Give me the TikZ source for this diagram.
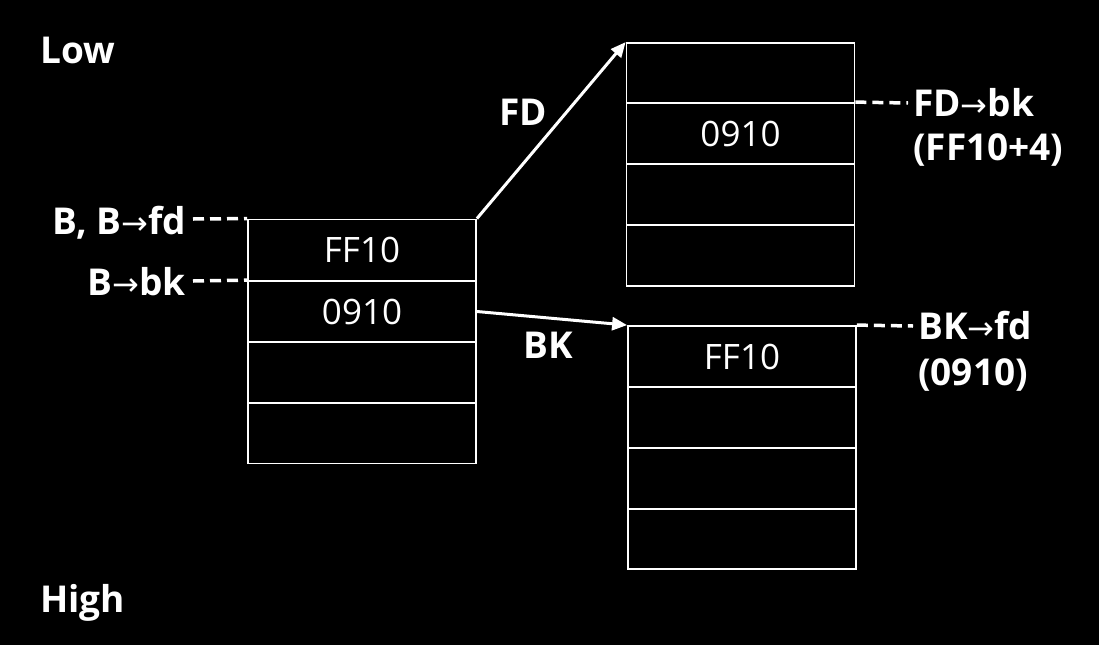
\documentclass[tikz,border=0pt]{standalone}
\usepackage{fontspec}
\setmainfont{Open Sans}
\newfontfamily\arrfont{DejaVu Sans}
\newcommand{\ra}{{\arrfont\mdseries\fontsize{32}{40}\selectfont →}}
\usetikzlibrary{arrows.meta}
\begin{document}
\begin{tikzpicture}[x=1pt,y=-1pt,
  cell/.style={draw=white,line width=1.8pt,minimum width=228pt,minimum height=61pt,inner sep=0pt,text=white,font=\fontsize{35}{40}\selectfont},
  lbl/.style={text=white,font=\bfseries\fontsize{37}{44}\selectfont,inner sep=0pt},
  ptr/.style={draw=white,line width=3pt,-{Triangle[length=15pt,width=13pt]}},
  dsh/.style={draw=white,line width=3.5pt,dash pattern=on 11pt off 6pt}]
\fill[black] (0,0) rectangle (1099,645);
\useasboundingbox (0,0) rectangle (1099,645);
% box A
\node[cell] (a1) at (362,250) {FF10};
\node[cell] (a2) at (362,311.5) {0910};
\node[cell] (a3) at (362,372.5) {};
\node[cell] (a4) at (362,433) {};
% box B
\node[cell,minimum height=60pt] (b1) at (740.5,73) {};
\node[cell] (b2) at (740.5,133.5) {0910};
\node[cell] (b3) at (740.5,194.5) {};
\node[cell] (b4) at (740.5,255.5) {};
% box C
\node[cell] (c1) at (742,356.5) {FF10};
\node[cell] (c2) at (742,417.5) {};
\node[cell] (c3) at (742,478.5) {};
\node[cell,minimum height=60pt] (c4) at (742,539) {};
% labels
\node[lbl,anchor=base west] (low) at (40,63) {Low};
\node[lbl,anchor=base west] (high) at (40,612) {High};
\node[lbl,anchor=base east] (bfd) at (186,234) {B, B\ra fd};
\node[lbl,anchor=base east] (bbk) at (186,295) {B\ra bk};
\node[lbl,anchor=base] (fd) at (523,125) {FD};
\node[lbl,anchor=base] (bk) at (548,358) {BK};
\node[lbl,anchor=base west] (fdbk) at (913,116) {FD\ra bk};
\node[lbl,anchor=base west] (fdbk2) at (913,160) {(FF10+4)};
\node[lbl,anchor=base west] (bkfd) at (918,339) {BK\ra fd};
\node[lbl,anchor=base west] (bkfd2) at (918,385) {(0910)};
% dashed leaders
\coordinate (d1) at (193,219);
\coordinate (d2) at (193,281);
\coordinate (d3) at (908,103);
\coordinate (d4) at (913,326);
\draw[dsh] (d1) -- (a1.north west);
\draw[dsh] (d2) -- (a2.north west);
\draw[dsh] (b2.north east) -- (d3);
\draw[dsh] (c1.north east) -- (d4);
% pointers
\draw[ptr] (a1.north east) -- (b1.north west);
\draw[ptr] (a2.east) -- (c1.north west);
\end{tikzpicture}
\end{document}
